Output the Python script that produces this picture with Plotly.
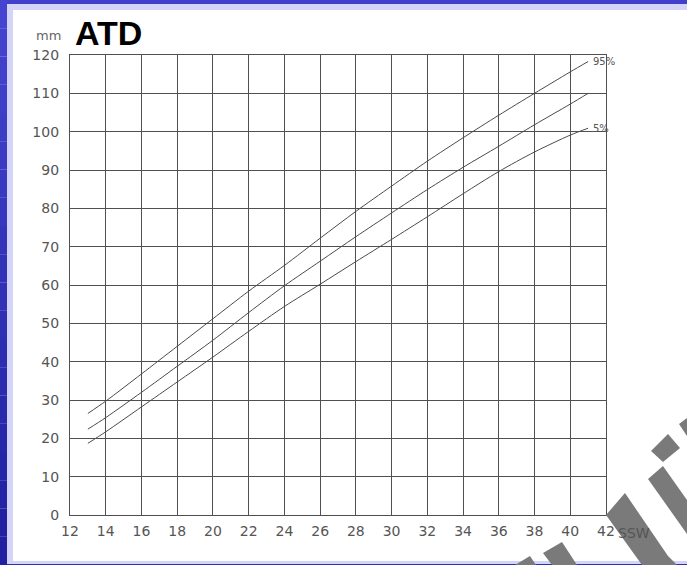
import plotly.graph_objects as go

# ---- data ----
ssw = [13, 14, 16, 18, 20, 22, 24, 26, 28, 30, 32, 34, 36, 38, 40, 41]
p95 = [26.5, 29.7, 36.8, 44.0, 51.2, 58.4, 65.1, 72.2, 79.2, 85.8, 92.3, 98.4, 104.3, 110.0, 115.6, 118.3]
p50 = [22.4, 25.4, 32.0, 38.8, 45.6, 52.8, 59.8, 66.2, 72.6, 78.8, 84.9, 90.7, 96.2, 101.8, 107.2, 110.0]
p05 = [18.7, 21.7, 28.2, 34.7, 41.2, 47.9, 54.4, 60.2, 66.1, 71.9, 77.8, 83.8, 89.6, 94.7, 99.1, 100.9]
x_ticks = list(range(12, 43, 2))
y_ticks = list(range(0, 121, 10))
series_labels = ["95%", "5%"]

W, H = 687, 565
L, R, T, B = 70, 606, 55, 515
FONT = "DejaVu Sans, Verdana, sans-serif"


def px(x):
    return (x - L) / (R - L)


def py(y):
    return (B - y) / (B - T)


fig = go.Figure()
line_style = dict(color="#4a4a4a", width=1)
for name, ys in [("95%", p95), ("50%", p50), ("5%", p05)]:
    fig.add_trace(go.Scatter(x=ssw, y=ys, mode="lines", line=dict(shape="spline", smoothing=0.8, **line_style),
                             name=name, showlegend=False, hoverinfo="skip"))

shapes = []
# white page with lavender/blue border
shapes.append(dict(type="rect", xref="paper", yref="paper", x0=px(0), x1=px(W), y0=py(H), y1=py(0),
                   fillcolor="#d4d4f8", line_width=0, layer="below"))
shapes.append(dict(type="rect", xref="paper", yref="paper", x0=px(13), x1=px(W), y0=py(561), y1=py(10),
                   fillcolor="white", line_width=0, layer="below"))
# top blue strip
shapes.append(dict(type="rect", xref="paper", yref="paper", x0=px(0), x1=px(W), y0=py(4), y1=py(0),
                   fillcolor="#4040cc", line_width=0, layer="below"))
# bottom blue strip
shapes.append(dict(type="rect", xref="paper", yref="paper", x0=px(0), x1=px(W), y0=py(H), y1=py(564),
                   fillcolor="#3030b0", line_width=0, layer="below"))
# left blue strip gradient
n = 20
for i in range(n):
    t = i / (n - 1)
    r = int(0x44 + (0x20 - 0x44) * t)
    g = int(0x44 + (0x20 - 0x44) * t)
    b = int(0xd0 + (0xa0 - 0xd0) * t)
    shapes.append(dict(type="rect", xref="paper", yref="paper", x0=px(0), x1=px(7),
                       y0=py(H * (i + 1) / n), y1=py(H * i / n),
                       fillcolor=f"rgb({r},{g},{b})", line_width=0, layer="below"))


def poly(pts, color="#7a7a7a"):
    d = "M " + " L ".join(f"{px(x):.4f},{py(y):.4f}" for x, y in pts) + " Z"
    return dict(type="path", xref="paper", yref="paper", path=d, fillcolor=color, line_width=0, layer="above")


# decorative watermark bars (bottom right)
shapes.append(poly([(651, 451), (668, 434), (680, 448), (663, 462)]))
shapes.append(poly([(679, 424), (687, 418), (687, 436)]))
shapes.append(poly([(648, 479), (663, 466), (687, 500), (687, 534)]))
shapes.append(poly([(606, 515), (625, 493), (668, 556), (677, 565), (642, 565)]))
shapes.append(poly([(543, 553), (562, 542), (577, 565), (552, 565)]))
shapes.append(poly([(515, 565), (530, 556), (536, 565)]))

annotations = [
    dict(text="<b>ATD</b>", xref="paper", yref="paper", x=px(73), y=py(33), xanchor="left", yanchor="middle",
         showarrow=False, font=dict(family="Liberation Sans, Arial", size=34, color="black")),
    dict(text="mm", xref="paper", yref="paper", x=px(63), y=py(35), xanchor="right", yanchor="middle",
         showarrow=False, font=dict(family=FONT, size=13, color="#666")),
    dict(text="SSW", xref="paper", yref="paper", x=px(616), y=py(533), xanchor="left", yanchor="middle",
         showarrow=False, font=dict(family=FONT, size=14, color="#555")),
    dict(text=series_labels[0], x=ssw[-1], y=p95[-1], xanchor="left", yanchor="middle", xshift=3,
         showarrow=False, font=dict(family=FONT, size=10, color="#555")),
    dict(text=series_labels[1], x=ssw[-1], y=p05[-1], xanchor="left", yanchor="middle", xshift=3,
         showarrow=False, font=dict(family=FONT, size=10, color="#555")),
]

axis_common = dict(showgrid=True, gridcolor="#505050", gridwidth=1.2, showline=True, linecolor="#505050", linewidth=1.2,
                   mirror=True, zeroline=False, ticks="", tickfont=dict(family=FONT, size=14, color="#555"))

fig.update_layout(
    width=W, height=H,
    margin=dict(l=L, r=W - R, t=T, b=H - B, pad=0),
    paper_bgcolor="white", plot_bgcolor="white",
    xaxis=dict(range=[12, 42], tickvals=x_ticks, ticktext=[str(v) for v in x_ticks], ticklabelstandoff=3, **axis_common),
    yaxis=dict(range=[0, 120], tickvals=y_ticks, ticktext=[str(v) for v in y_ticks], ticklabelstandoff=7, **axis_common),
    shapes=shapes, annotations=annotations, showlegend=False,
)

fig.write_html("out.html", config={"displayModeBar": False},
               post_script="document.body.style.margin='0';document.body.style.overflow='hidden';")
